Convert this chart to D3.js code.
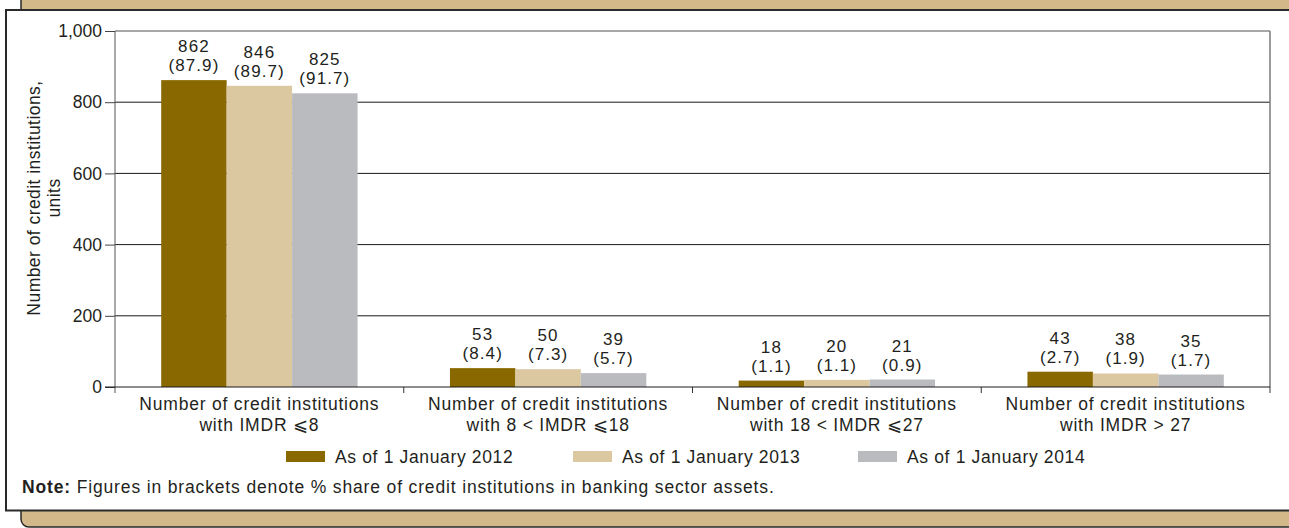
<!DOCTYPE html>
<html><head><meta charset="utf-8">
<script src="https://cdn.jsdelivr.net/npm/d3@7"></script>
<style>
body{margin:0;background:#fff;}
svg{display:block;font-family:"Liberation Sans",Arial,Helvetica,sans-serif;}
text{fill:#231f20;}
</style></head><body>
<script>
const categories = [
  ["Number of credit institutions", "with IMDR \u2A7D8"],
  ["Number of credit institutions", "with 8 < IMDR \u2A7D18"],
  ["Number of credit institutions", "with 18 < IMDR \u2A7D27"],
  ["Number of credit institutions", "with IMDR > 27"]
];
const seriesNames = ["As of 1 January 2012", "As of 1 January 2013", "As of 1 January 2014"];
const values2012 = [862, 53, 18, 43];
const values2013 = [846, 50, 20, 38];
const values2014 = [825, 39, 21, 35];
const shares2012 = ["87.9", "8.4", "1.1", "2.7"];
const shares2013 = ["89.7", "7.3", "1.1", "1.9"];
const shares2014 = ["91.7", "5.7", "0.9", "1.7"];
const yTicks = [0, 200, 400, 600, 800, 1000];
const colors = ["#8a6800", "#dcc8a0", "#babbbf"];
const yTitle = ["Number of credit institutions,", "units"];
const noteBold = "Note:";
const noteText = " Figures in brackets denote % share of credit institutions in banking sector assets.";

(function () {
const W = 1289, H = 528;
const svg = d3.select("body").append("svg").attr("width", W).attr("height", H);

// frame
svg.append("rect").attr("x", 21).attr("y", -30).attr("width", 1300).attr("height", 557)
  .attr("rx", 8).attr("fill", "#d3b98a").attr("stroke", "#2a2a2a").attr("stroke-width", 1.5);
svg.append("rect").attr("x", 6).attr("y", 10).attr("width", 1300).attr("height", 500.5)
  .attr("fill", "#fff").attr("stroke", "#2a2a2a").attr("stroke-width", 2);

const pL = 115, pR = 1270, pT = 31, pB = 387;
const x0 = d3.scaleBand().domain(d3.range(categories.length)).range([pL, pR]);
const x1 = d3.scaleBand().domain(d3.range(3)).range([x0.bandwidth() * 0.16, x0.bandwidth() * 0.84]);
const y = d3.scaleLinear().domain([0, 1000]).range([pB, pT]);

// gridlines
const g = svg.append("g");
g.selectAll("line.grid").data(yTicks.filter(t => t > 0 && t < 1000)).join("line")
  .attr("x1", pL).attr("x2", pR).attr("y1", d => y(d)).attr("y2", d => y(d))
  .attr("stroke", "#1a1a1a").attr("stroke-width", 1);
g.append("line").attr("x1", pL).attr("x2", pR).attr("y1", y(1000)).attr("y2", y(1000))
  .attr("stroke", "#8a8a8a").attr("stroke-width", 1.5);
g.append("line").attr("x1", pR).attr("x2", pR).attr("y1", y(1000)).attr("y2", pB + 6)
  .attr("stroke", "#7a7a7a").attr("stroke-width", 1.5);

// y axis
const yAxis = d3.axisLeft(y).tickValues(yTicks).tickSize(10).tickPadding(3)
  .tickFormat(d3.format(","));
const ya = svg.append("g").attr("transform", `translate(${pL},0)`).call(yAxis);
ya.select(".domain").remove();
ya.selectAll(".tick line").attr("stroke", "#444");
ya.selectAll(".tick text").attr("font-size", 17.5).attr("fill", "#231f20")
  .style("font-family", '"Liberation Sans",Arial,sans-serif');
svg.append("line").attr("x1", pL).attr("x2", pL).attr("y1", pT).attr("y2", pB + 6)
  .attr("stroke", "#555").attr("stroke-width", 1);

// bars
const series = [values2012, values2013, values2014];
const shares = [shares2012, shares2013, shares2014];
const bars = [];
series.forEach((vals, s) => vals.forEach((v, c) => bars.push({s, c, v, p: shares[s][c]})));
svg.append("g").selectAll("rect").data(bars).join("rect")
  .attr("x", d => x0(d.c) + x1(d.s)).attr("width", x1.bandwidth())
  .attr("y", d => y(d.v)).attr("height", d => y(0) - y(d.v))
  .attr("fill", d => colors[d.s]);

// x axis line and ticks
svg.append("line").attr("x1", pL - 10).attr("x2", pR).attr("y1", pB).attr("y2", pB)
  .attr("stroke", "#1a1a1a").attr("stroke-width", 1);
svg.append("g").selectAll("line").data(d3.range(1, categories.length)).join("line")
  .attr("x1", d => x0(d)).attr("x2", d => x0(d)).attr("y1", pB).attr("y2", pB + 6)
  .attr("stroke", "#333");

// value labels (one text, two lines)
const lab = svg.append("g").attr("font-size", 17).attr("text-anchor", "middle")
  .attr("letter-spacing", 1.1);
const cx = d => x0(d.c) + x1(d.s) + x1.bandwidth() / 2;
const lt = lab.selectAll("text").data(bars).join("text")
  .attr("x", cx).attr("y", d => y(d.v) - 28);
lt.append("tspan").attr("x", cx).text(d => d.v);
lt.append("tspan").attr("x", cx).attr("dy", 19).text(d => "(" + d.p + ")");

// category labels
const cl = svg.append("g").attr("font-size", 17.5).attr("text-anchor", "middle")
  .attr("letter-spacing", 0.8);
categories.forEach((lines, i) => {
  const t = cl.append("text").attr("x", x0(i) + x0.bandwidth() / 2).attr("y", 410);
  lines.forEach((ln, j) => {
    t.append("tspan").attr("x", x0(i) + x0.bandwidth() / 2).attr("dy", j === 0 ? 0 : 21).text(ln);
  });
});

// y title
const yt = svg.append("g").attr("font-size", 17.5).attr("text-anchor", "middle")
  .attr("letter-spacing", 0.45);
yTitle.forEach((t, j) => {
  yt.append("text").attr("transform", `translate(${40 + j * 20},198) rotate(-90)`).text(t);
});

// legend
const lg = svg.append("g").attr("font-size", 17.5).attr("letter-spacing", 0.65);
const legX = [286, 573, 858];
seriesNames.forEach((n, i) => {
  lg.append("rect").attr("x", legX[i]).attr("y", 451).attr("width", 39).attr("height", 11).attr("fill", colors[i]);
  lg.append("text").attr("x", legX[i] + 49).attr("y", 463).text(n);
});

// note
const nt = svg.append("text").attr("x", 22).attr("y", 493).attr("font-size", 17.5)
  .attr("letter-spacing", 0.85);
nt.append("tspan").attr("font-weight", "bold").text(noteBold);
nt.append("tspan").text(noteText);
})();
</script>
</body></html>
